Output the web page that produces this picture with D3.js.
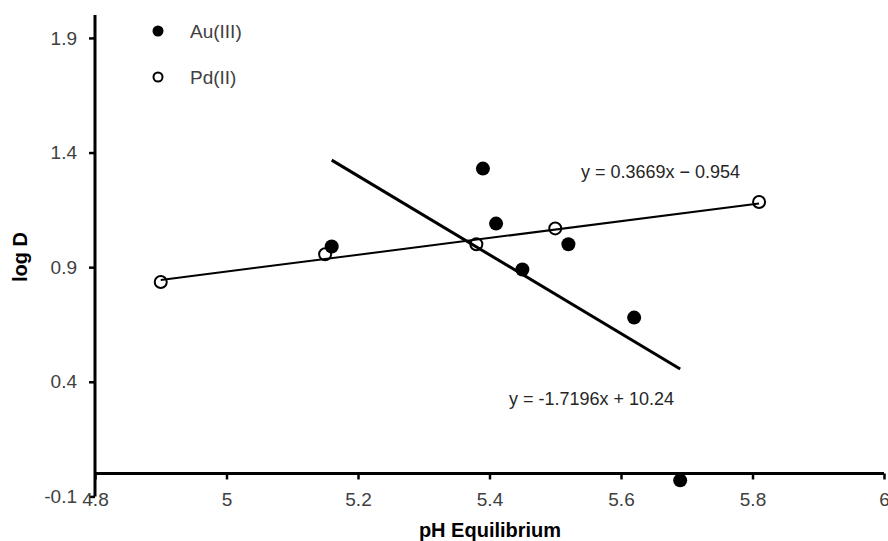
<!DOCTYPE html>
<html>
<head>
<meta charset="utf-8">
<script src="https://cdn.jsdelivr.net/npm/d3@7"></script>
<style>
  body { margin: 0; background: #fff; }
  text { font-family: "Liberation Sans", Arial, sans-serif; }
</style>
</head>
<body>
<div id="chart"></div>
<script>
var width = 888,
    height = 541;

// data
var auX = [5.16, 5.39, 5.41, 5.45, 5.52, 5.62, 5.69];
var auY = [0.99, 1.33, 1.09, 0.89, 1.00, 0.68, -0.03];
var pdX = [4.90, 5.15, 5.38, 5.50, 5.81];
var pdY = [0.835, 0.956, 1.00, 1.069, 1.184];

var xTicks = [4.8, 5, 5.2, 5.4, 5.6, 5.8, 6];
var yTicks = [-0.1, 0.4, 0.9, 1.4, 1.9];

// trendlines as printed on the chart
var auFit = { slope: -1.7196, intercept: 10.24, label: "y = -1.7196x + 10.24" };
var pdFit = { slope: 0.3669, intercept: -0.954, label: "y = 0.3669x \u2212 0.954" };

var seriesNames = ["Au(III)", "Pd(II)"];

var svg = d3.select("#chart")
    .append("svg")
    .attr("width", width)
    .attr("height", height);

var xScale = d3.scaleLinear()
    .domain([4.8, 6])
    .range([95, 884]);

var yScale = d3.scaleLinear()
    .domain([-0.1, 2.0])
    .range([496.4, 15]);

var labelColor = "#404040";
var plain = function(d) { return String(d); }; // keep hyphen minus like the original

// y axis (at x = 4.8)
var yAxis = d3.axisLeft(yScale)
    .tickValues(yTicks)
    .tickSize(6)
    .tickPadding(12)
    .tickFormat(plain);

var gY = svg.append("g")
    .attr("transform", "translate(" + xScale(4.8) + ",0)")
    .call(yAxis);

gY.select(".domain")
    .attr("stroke", "#000")
    .attr("stroke-width", 3)
    .attr("d", "M0," + yScale(2.0) + "V" + yScale(-0.1));
gY.selectAll(".tick line").attr("stroke", "#000").attr("stroke-width", 2.5);
gY.selectAll(".tick text")
    .style("font-size", "19px")
    .attr("fill", labelColor);

// x axis crossing at y = 0
var xAxis = d3.axisBottom(xScale)
    .tickValues(xTicks)
    .tickSize(6)
    .tickPadding(13)
    .tickFormat(plain);

var gX = svg.append("g")
    .attr("transform", "translate(0," + yScale(0) + ")")
    .call(xAxis);

gX.select(".domain")
    .attr("stroke", "#000")
    .attr("stroke-width", 3)
    .attr("d", "M" + xScale(4.8) + ",0H" + xScale(6));
gX.selectAll(".tick line").attr("stroke", "#000").attr("stroke-width", 2.5);
gX.selectAll(".tick text")
    .style("font-size", "19px")
    .attr("fill", labelColor);

// axis titles
svg.append("text")
    .attr("x", 490)
    .attr("y", 537)
    .attr("text-anchor", "middle")
    .style("font-size", "20px")
    .style("font-weight", "bold")
    .attr("fill", "#000")
    .text("pH Equilibrium");

svg.append("text")
    .attr("transform", "translate(27,257) rotate(-90)")
    .attr("text-anchor", "middle")
    .style("font-size", "20px")
    .style("font-weight", "bold")
    .attr("fill", "#000")
    .text("log D");

// trendlines over each series' x range
function fitLine(fit, xs) {
    var x0 = d3.min(xs), x1 = d3.max(xs);
    return [[x0, fit.slope * x0 + fit.intercept], [x1, fit.slope * x1 + fit.intercept]];
}

var line = d3.line()
    .x(function(d) { return xScale(d[0]); })
    .y(function(d) { return yScale(d[1]); });

svg.append("path")
    .datum(fitLine(pdFit, pdX))
    .attr("d", line)
    .attr("fill", "none")
    .attr("stroke", "#000")
    .attr("stroke-width", 2);

svg.append("path")
    .datum(fitLine(auFit, auX))
    .attr("d", line)
    .attr("fill", "none")
    .attr("stroke", "#000")
    .attr("stroke-width", 3);

// points
var pdData = pdX.map(function(x, i) { return { x: x, y: pdY[i] }; });
var auData = auX.map(function(x, i) { return { x: x, y: auY[i] }; });

svg.append("g")
    .selectAll("circle")
    .data(pdData)
    .enter()
    .append("circle")
    .attr("cx", function(d) { return xScale(d.x); })
    .attr("cy", function(d) { return yScale(d.y); })
    .attr("r", 6)
    .attr("fill", "#fff")
    .attr("fill-opacity", 0)
    .attr("stroke", "#000")
    .attr("stroke-width", 2);

svg.append("g")
    .selectAll("circle")
    .data(auData)
    .enter()
    .append("circle")
    .attr("cx", function(d) { return xScale(d.x); })
    .attr("cy", function(d) { return yScale(d.y); })
    .attr("r", 7)
    .attr("fill", "#000");

// equation labels
svg.append("text")
    .attr("x", 581)
    .attr("y", 178)
    .style("font-size", "18px")
    .attr("fill", "#262626")
    .text(pdFit.label);

svg.append("text")
    .attr("x", 509)
    .attr("y", 405)
    .style("font-size", "18px")
    .attr("fill", "#262626")
    .text(auFit.label);

// legend
var legend = svg.append("g")
    .selectAll("g")
    .data(seriesNames)
    .enter()
    .append("g")
    .attr("transform", function(d, i) { return "translate(158," + (31 + i * 46) + ")"; });

legend.append("circle")
    .attr("r", function(d, i) { return i === 0 ? 5.5 : 4.5; })
    .attr("fill", function(d, i) { return i === 0 ? "#000" : "#fff"; })
    .attr("stroke", "#000")
    .attr("stroke-width", function(d, i) { return i === 0 ? 0 : 2; });

legend.append("text")
    .attr("x", 32)
    .attr("y", 7)
    .style("font-size", "19px")
    .attr("fill", labelColor)
    .text(function(d) { return d; });
</script>
</body>
</html>
